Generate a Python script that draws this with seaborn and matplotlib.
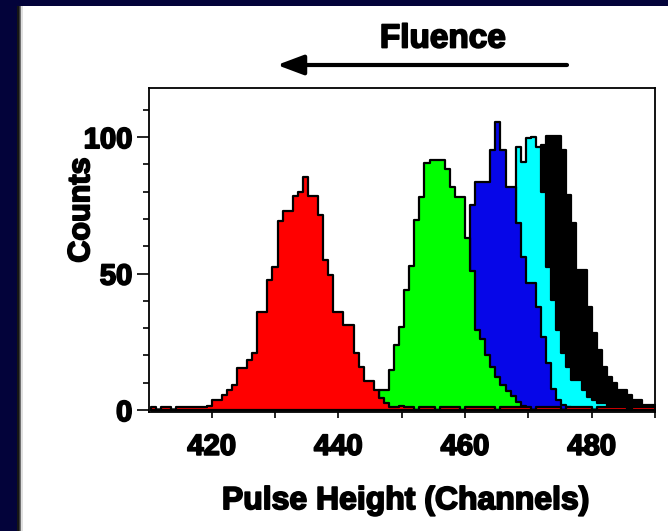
import numpy as np
import pandas as pd
import matplotlib
matplotlib.use("Agg")
import matplotlib.pyplot as plt
import matplotlib.patheffects as pe
import seaborn as sns
from matplotlib.patches import Rectangle
from matplotlib.ticker import MultipleLocator

# ---------------- data (counts per 0.8-channel bin) ----------------
bin_width = 0.8

red_start = 410.4
red_counts = [
    1, 0, 1, 1, 0, 1, 1, 1, 1, 1, 1, 1.5,
    3.7, 3.7, 5.5, 7.3, 9.2, 15.6, 15.6, 18.3, 20.8, 36, 36, 47.6, 52.5,
    69.3, 73, 73, 78.4, 80, 85.5, 78.4, 78.4, 71.4, 55, 49.5, 36, 36, 31, 31,
    20.8, 15.9, 10.7, 10.7, 7.3, 4.5, 2.5,
    1, 1, 1.5, 1, 1, 0, 1, 1, 1, 0,
    1, 1, 1, 1, 0, 1, 1, 1, 1, 1,
    1, 0, 1, 1, 1, 1, 1, 1, 0, 1,
    1, 1, 1, 1, 0, 1, 1, 1, 1, 1,
    0, 1, 1, 1, 1, 1, 1, 0, 1, 1,
    1, 1, 1,
]

green_start = 446.4
green_counts = [7.3, 7.3, 14.7, 23.8, 30.5, 44, 52.7, 69.6, 77.9, 90.5, 91.5,
                91.5, 91.5, 88.5, 81.8, 78.1, 78.1, 62.9, 51, 29.3, 26, 20,
                15.9, 12.2, 9.2, 7, 5, 3, 1.5]

blue_start = 460.8
blue_counts = [75, 83.6, 83.6, 83.6, 95.2, 105.6, 95.2, 81.8, 81.8, 68.4,
               56.2, 46.4, 46.4, 37.8, 26.8, 17.1, 7.9, 3.7, 2, 1]

cyan_start = 468.0
cyan_counts = [96.4, 91, 99.5, 100, 96.4, 80, 52.5, 40.3, 29.3, 20.8, 15.9,
               11, 11, 7.3, 4.9, 3.7, 2.5, 2.5, 1.5]

black_start = 468.8
black_counts = [20, 45, 70, 88, 97, 100.4, 100.4, 100.4, 95.2, 78.8, 68.4,
                51.3, 51.3, 37.8, 28.1, 22, 15.9, 12.2, 9.8, 7.3, 7.3, 5.5,
                3.7, 3.7, 1.8, 1.8, 1.8]

series_names = ["red", "green", "blue", "cyan", "black"]
series_colors = ["#ff0000", "#00ff00", "#0606e8", "#00ffff", "#000000"]

x_ticks = [420, 440, 460, 480]
y_ticks = [0, 50, 100]

title_text = "Fluence"
x_label = "Pulse Height (Channels)"
y_label = "Counts"

# ---------------- build table ----------------
rows = []
for name, start, counts in [("red", red_start, red_counts),
                            ("green", green_start, green_counts),
                            ("blue", blue_start, blue_counts),
                            ("cyan", cyan_start, cyan_counts),
                            ("black", black_start, black_counts)]:
    for i, c in enumerate(counts):
        rows.append((name, start + (i + 0.5) * bin_width, c))
df = pd.DataFrame(rows, columns=["series", "channel", "counts"])

# ---------------- style ----------------
sns.set_style("ticks")
plt.rcParams["font.family"] = ["Liberation Sans", "DejaVu Sans"]
plt.rcParams["font.weight"] = "bold"
plt.rcParams["axes.edgecolor"] = "black"
plt.rcParams["xtick.color"] = "black"
plt.rcParams["ytick.color"] = "black"
plt.rcParams["text.color"] = "black"
plt.rcParams["axes.labelcolor"] = "black"

heavy = [pe.withStroke(linewidth=1.3, foreground="black")]

W, H = 668, 531
fig = plt.figure(figsize=(W / 100, H / 100), dpi=100, facecolor="#03033a")

# white panel with a soft shadow on its left edge
fig.patches.append(Rectangle((22 / W, 0), 1 - 22 / W, 1 - 6 / H,
                             transform=fig.transFigure, facecolor="white",
                             edgecolor="none", zorder=-5))
for x0, col in [(17, "#151515"), (18.5, "#3a3a3a"), (19.5, "#707070"),
                (20.5, "#b0b0b0"), (21.3, "#e0e0e0")]:
    fig.patches.append(Rectangle((x0 / W, 0), 1.5 / W, 1 - 6 / H,
                                 transform=fig.transFigure, facecolor=col,
                                 edgecolor="none", zorder=-5))

ax = fig.add_axes([149 / W, 1 - 412 / H, (655 - 149) / W, (412 - 88) / H])
ax.set_facecolor("white")

sns.histplot(data=df, x="channel", weights="counts", hue="series",
             hue_order=series_names,
             palette=dict(zip(series_names, series_colors)),
             binwidth=bin_width, binrange=(410.4, 490.4),
             element="step", fill=True, alpha=1,
             edgecolor="black", linewidth=1.6, legend=False, ax=ax)

ax.set_xlim(410.1, 490.0)
ax.set_ylim(-0.7, 118)

ax.set_xticks(x_ticks)
ax.xaxis.set_minor_locator(MultipleLocator(10))
ax.set_yticks(y_ticks)
ax.yaxis.set_minor_locator(MultipleLocator(10))
ax.tick_params(axis="y", which="major", length=9, width=1.2, pad=3,
               labelsize=21)
ax.tick_params(axis="y", which="minor", length=4.5, width=1.2)
ax.tick_params(axis="x", which="both", length=4, width=1.2, pad=11,
               labelsize=21)
ax.tick_params(top=False, right=False)
for s in ax.spines.values():
    s.set_visible(True)
    s.set_color("black")
    s.set_linewidth(1.3)
for lbl in ax.get_xticklabels() + ax.get_yticklabels():
    lbl.set_path_effects(heavy)

ax.set_xlabel(x_label, fontsize=23, fontweight="bold")
ax.xaxis.set_label_coords(0.508, -0.275)
ax.xaxis.label.set_va("center")
ax.xaxis.label.set_path_effects(heavy)
ax.set_ylabel(y_label, fontsize=22, fontweight="bold")
ax.yaxis.set_label_coords(-0.134, 0.623)
ax.yaxis.label.set_va("center")
ax.yaxis.label.set_path_effects(heavy)

fig.text(443 / W, 1 - 39 / H, title_text, ha="center", va="center",
         fontsize=24, fontweight="bold", path_effects=heavy)
ax.annotate("", xy=(277 / W, 1 - 65 / H), xytext=(567 / W, 1 - 65 / H),
            xycoords="figure fraction", textcoords="figure fraction",
            annotation_clip=False,
            arrowprops=dict(arrowstyle="-|>,head_length=1.6,head_width=0.6",
                            lw=3, color="black", mutation_scale=10,
                            shrinkA=0, shrinkB=0))

fig.savefig("out.png", dpi=100, facecolor=fig.get_facecolor())
